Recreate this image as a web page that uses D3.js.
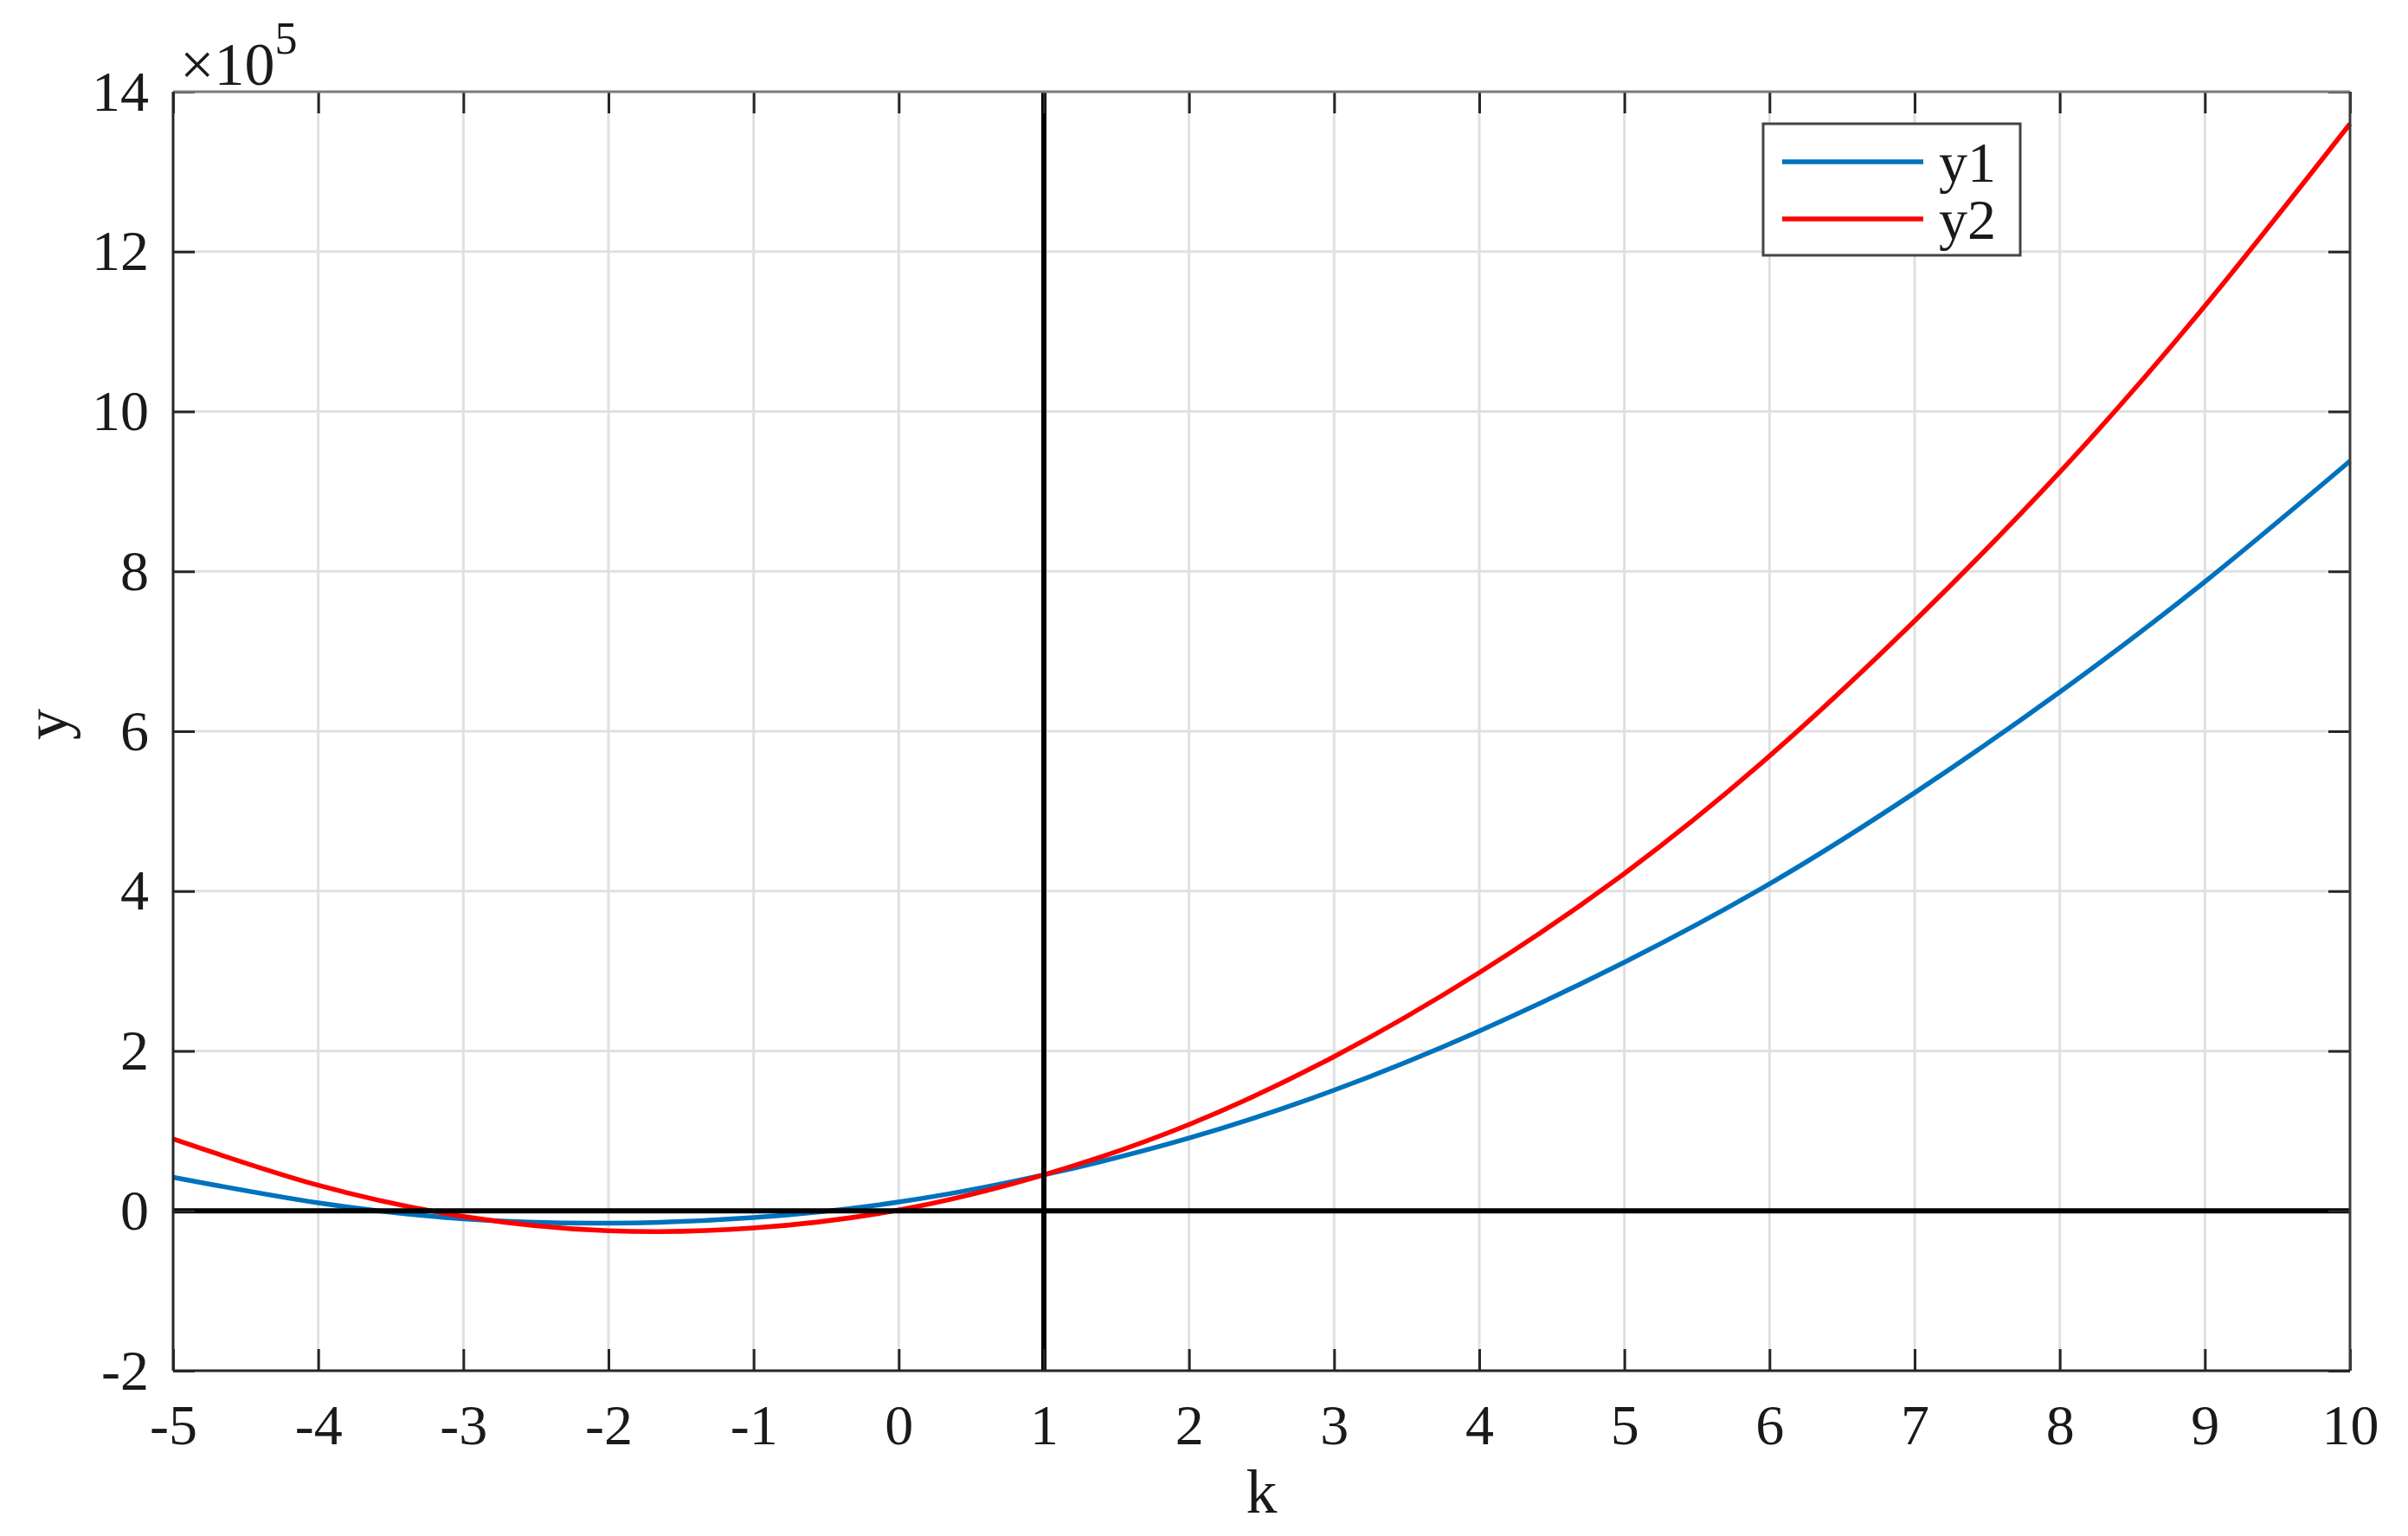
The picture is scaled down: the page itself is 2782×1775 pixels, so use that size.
<!DOCTYPE html>
<html>
<head>
<meta charset="utf-8">
<script src="https://cdn.jsdelivr.net/npm/d3@7"></script>
<style>
  html, body { margin: 0; padding: 0; background: #fff; }
  svg { display: block; }
  text { font-family: "Liberation Serif", "DejaVu Serif", serif; fill: #1a1a1a; }
</style>
</head>
<body>
<script>
// ---------- data (y values in units, ×10^5) ----------
const kValues  = [-5, -4, -3, -2, -1, 0, 1, 2, 3, 4, 5, 6, 7, 8, 9, 10];
const y1Values = [0.42, 0.10, -0.10, -0.155, -0.085, 0.11, 0.45, 0.91, 1.51, 2.25, 3.11, 4.09, 5.23, 6.49, 7.87, 9.38];
const y2Values = [0.90, 0.32, -0.07, -0.25, -0.215, 0.01, 0.45, 1.08, 1.93, 2.98, 4.22, 5.69, 7.38, 9.24, 11.32, 13.60];
const seriesNames = ["y1", "y2"];
const seriesColors = ["#0072BD", "#FF0000"];
const xTickValues = [-5, -4, -3, -2, -1, 0, 1, 2, 3, 4, 5, 6, 7, 8, 9, 10];
const yTickValues = [-2, 0, 2, 4, 6, 8, 10, 12, 14];
const yMultiplier = 1e5;
const xLabel = "k";
const yLabel = "y";
const refLineK = 1;   // vertical black reference line
const refLineY = 0;   // horizontal black reference line

// ---------- layout ----------
const W = 2782, H = 1775;
const L = 200, R = 2715, T = 106, B = 1584;
const FS = 66;
const tickLen = 25;

const svg = d3.select("body").append("svg").attr("width", W).attr("height", H);

const x = d3.scaleLinear().domain([-5, 10]).range([L, R]);
const y = d3.scaleLinear().domain([-2, 14]).range([B, T]);

// grid
const grid = svg.append("g");
grid.selectAll("line.gx").data(xTickValues.filter(v => v > -5 && v < 10)).enter()
  .append("line").attr("x1", d => x(d)).attr("x2", d => x(d)).attr("y1", T).attr("y2", B)
  .attr("stroke", "#e0e0e0").attr("stroke-width", 3);
grid.selectAll("line.gy").data(yTickValues.filter(v => v > -2 && v < 14)).enter()
  .append("line").attr("y1", d => y(d)).attr("y2", d => y(d)).attr("x1", L).attr("x2", R)
  .attr("stroke", "#e0e0e0").attr("stroke-width", 3);

// curves
const lineGen = d3.line().x(d => x(d[0])).y(d => y(d[1])).curve(d3.curveNatural);
[y1Values, y2Values].forEach((vals, i) => {
  svg.append("path")
    .datum(kValues.map((k, j) => [k, vals[j]]))
    .attr("d", lineGen)
    .attr("fill", "none")
    .attr("stroke", seriesColors[i])
    .attr("stroke-width", 5.5)
    .attr("stroke-linejoin", "round");
});

// black reference lines
svg.append("line").attr("x1", L).attr("x2", R).attr("y1", y(refLineY)).attr("y2", y(refLineY))
  .attr("stroke", "#000").attr("stroke-width", 6);
svg.append("line").attr("x1", x(refLineK)).attr("x2", x(refLineK)).attr("y1", T).attr("y2", B)
  .attr("stroke", "#000").attr("stroke-width", 6);

// axes (ticks inward)
const fmt = d => String(d);
const axB = svg.append("g").attr("transform", `translate(0,${B})`)
  .call(d3.axisBottom(x).tickValues(xTickValues).tickFormat(fmt).tickSizeInner(-tickLen).tickSizeOuter(0).tickPadding(38));
const axT = svg.append("g").attr("transform", `translate(0,${T})`)
  .call(d3.axisTop(x).tickValues(xTickValues).tickFormat("").tickSizeInner(-tickLen).tickSizeOuter(0));
const axL = svg.append("g").attr("transform", `translate(${L},0)`)
  .call(d3.axisLeft(y).tickValues(yTickValues).tickFormat(fmt).tickSizeInner(-tickLen).tickSizeOuter(0).tickPadding(28));
const axR = svg.append("g").attr("transform", `translate(${R},0)`)
  .call(d3.axisRight(y).tickValues(yTickValues).tickFormat("").tickSizeInner(-tickLen).tickSizeOuter(0));
[axB, axT, axL, axR].forEach(a => {
  a.select(".domain").remove();
  a.selectAll(".tick line").attr("stroke", "#262626").attr("stroke-width", 3);
  a.selectAll(".tick text").attr("font-size", FS).attr("font-family", "Liberation Serif").attr("fill", "#1a1a1a");
});

// box
svg.append("line").attr("x1", L).attr("x2", R).attr("y1", T).attr("y2", T).attr("stroke", "#7a7a7a").attr("stroke-width", 3);
svg.append("line").attr("x1", R).attr("x2", R).attr("y1", T).attr("y2", B).attr("stroke", "#3a3a3a").attr("stroke-width", 3);
svg.append("line").attr("x1", L).attr("x2", R).attr("y1", B).attr("y2", B).attr("stroke", "#262626").attr("stroke-width", 3);
svg.append("line").attr("x1", L).attr("x2", L).attr("y1", T).attr("y2", B).attr("stroke", "#262626").attr("stroke-width", 3);

// exponent label ×10^5
const expExp = Math.round(Math.log10(yMultiplier));
const ex = svg.append("text").attr("x", 208).attr("y", 98).attr("font-size", FS + 4);
ex.append("tspan").text("\u00d710");
ex.append("tspan").attr("font-size", 52).attr("dy", -36).text(String(expExp));

// axis titles
svg.append("text").attr("x", (L + R) / 2).attr("y", 1748).attr("text-anchor", "middle")
  .attr("font-size", 72).text(xLabel);
svg.append("text").attr("transform", `translate(78,${(T + B) / 2 - 8}) rotate(-90)`)
  .attr("text-anchor", "middle").attr("font-size", 72).text(yLabel);

// legend
const lg = svg.append("g");
lg.append("rect").attr("x", 2037).attr("y", 143).attr("width", 297).attr("height", 152)
  .attr("fill", "#fff").attr("stroke", "#444").attr("stroke-width", 3);
seriesNames.forEach((name, i) => {
  const cy = 187 + i * 66;
  lg.append("line").attr("x1", 2059).attr("x2", 2222).attr("y1", cy).attr("y2", cy)
    .attr("stroke", seriesColors[i]).attr("stroke-width", 5.5);
  lg.append("text").attr("x", 2240).attr("y", cy + 23).attr("font-size", 66).text(name);
});
</script>
</body>
</html>
